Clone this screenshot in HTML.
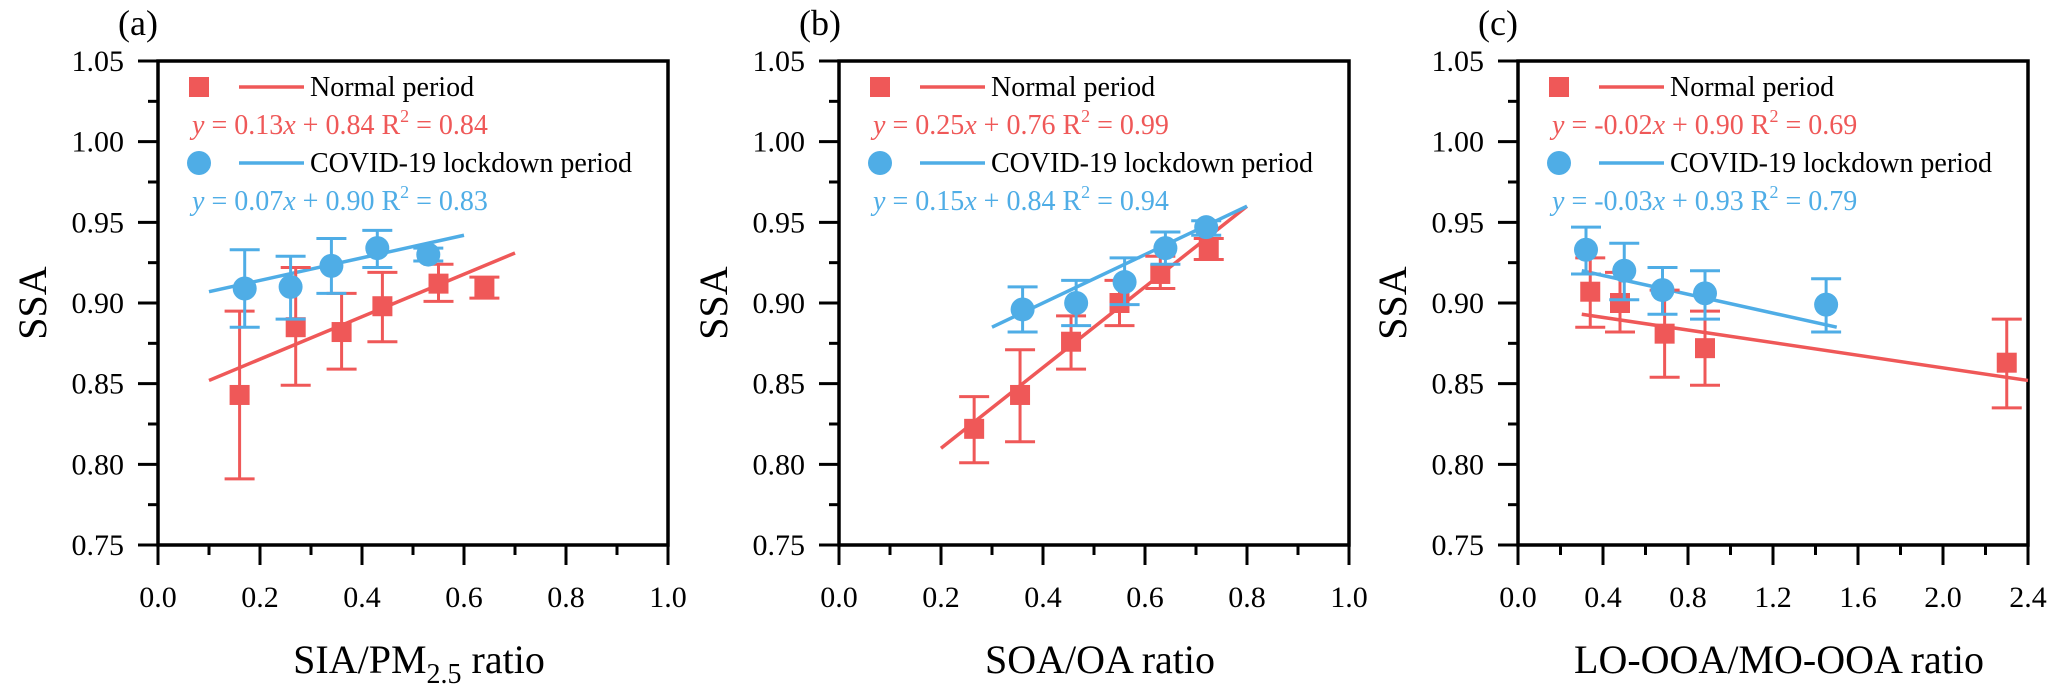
<!DOCTYPE html>
<html><head><meta charset="utf-8"><style>
html,body{margin:0;padding:0;background:#fff}
svg{display:block;font-family:"Liberation Serif","Times New Roman",serif}
svg text{font-family:"Liberation Serif","Times New Roman",serif}
</style></head><body>
<svg id="chart" width="2067" height="687" viewBox="0 0 2067 687" font-family="Liberation Serif, serif" xmlns="http://www.w3.org/2000/svg"></svg>
<script>
const panelLabels = ["(a)", "(b)", "(c)"];
const xTitles = ["SIA/PM", "SOA/OA ratio", "LO-OOA/MO-OOA ratio"];
const xMaxes = [1.0, 1.0, 2.4];
const xTickLabels = [["0.0","0.2","0.4","0.6","0.8","1.0"],["0.0","0.2","0.4","0.6","0.8","1.0"],["0.0","0.4","0.8","1.2","1.6","2.0","2.4"]];
const yTickLabels = ["0.75","0.80","0.85","0.90","0.95","1.00","1.05"];
const eqRed = ["0.13x + 0.84", "0.25x + 0.76", "-0.02x + 0.90"];
const r2Red = ["0.84", "0.99", "0.69"];
const eqBlue = ["0.07x + 0.90", "0.15x + 0.84", "-0.03x + 0.93"];
const r2Blue = ["0.83", "0.94", "0.79"];
// normal period (red)
const redX = [[0.16,0.27,0.36,0.44,0.55,0.64],[0.265,0.355,0.455,0.55,0.63,0.725],[0.34,0.48,0.69,0.88,2.3]];
const redY = [[0.843,0.885,0.882,0.898,0.912,0.909],[0.822,0.843,0.876,0.900,0.918,0.933],[0.907,0.900,0.881,0.872,0.863]];
const redLo = [[0.791,0.849,0.859,0.876,0.901,0.903],[0.801,0.814,0.859,0.886,0.909,0.927],[0.885,0.882,0.854,0.849,0.835]];
const redHi = [[0.895,0.922,0.906,0.919,0.924,0.916],[0.842,0.871,0.892,0.914,0.929,0.940],[0.928,0.919,0.908,0.895,0.890]];
const redFitX = [[0.1,0.7],[0.2,0.8],[0.3,2.4]];
const redFitY = [[0.852,0.931],[0.810,0.960],[0.893,0.852]];
// lockdown (blue)
const blueX = [[0.17,0.26,0.34,0.43,0.53],[0.36,0.465,0.56,0.64,0.72],[0.32,0.50,0.68,0.88,1.45]];
const blueY = [[0.909,0.910,0.923,0.934,0.930],[0.896,0.900,0.913,0.934,0.947],[0.933,0.920,0.908,0.906,0.899]];
const blueLo = [[0.885,0.890,0.906,0.922,0.926],[0.882,0.886,0.899,0.924,0.942],[0.918,0.902,0.893,0.890,0.882]];
const blueHi = [[0.933,0.929,0.940,0.945,0.934],[0.910,0.914,0.928,0.944,0.951],[0.947,0.937,0.922,0.920,0.915]];
const blueFitX = [[0.1,0.6],[0.3,0.8],[0.3,1.5]];
const blueFitY = [[0.907,0.942],[0.885,0.960],[0.920,0.885]];

const RED = "#ef5858", BLUE = "#4fade6";
const FONT = '"Liberation Serif", serif';
const NS = "http://www.w3.org/2000/svg";
const svg = document.getElementById("chart");
const lefts = [158, 839, 1518], W = 510, TOP = 61, BOT = 545;
function el(tag, attrs, parent, txt) {
  const e = document.createElementNS(NS, tag);
  for (const k in attrs) e.setAttribute(k, attrs[k]);
  if (tag === "text") e.style.fontFamily = FONT;
  if (txt !== undefined) e.textContent = txt;
  (parent || svg).appendChild(e);
  return e;
}
for (let p = 0; p < 3; p++) {
  const L = lefts[p], R = L + W;
  const g = el("g", {});
  
  
  const sx = v => L + v / xMaxes[p] * W;
  const sy = v => TOP + (1.05 - v) / 0.3 * (BOT - TOP);
  const pl = el("text", {x: L - 40, y: 35, "font-size": 36}, g, panelLabels[p]);
  
  
  const fr = el("rect", {x: L, y: TOP, width: W, height: BOT - TOP, fill: "none", stroke: "#000", "stroke-width": 3.5}, g);
  
  
  for (let i = 0; i < yTickLabels.length; i++) {
    const v = 0.75 + i * 0.05, y = sy(v);
    el("line", {x1: L - 20, x2: L, y1: y, y2: y, stroke: "#000", "stroke-width": 3}, g);
    const t = el("text", {x: L - 34, y: y + 10, "font-size": 30, "text-anchor": "end"}, g, yTickLabels[i]);
    
    
    if (i < yTickLabels.length - 1) {
      const ym = sy(v + 0.025);
      el("line", {x1: L - 10, x2: L, y1: ym, y2: ym, stroke: "#000", "stroke-width": 3}, g);
    }
  }
  const xt = xTickLabels[p], n = xt.length;
  for (let i = 0; i < n; i++) {
    const x = L + i / (n - 1) * W;
    el("line", {x1: x, x2: x, y1: BOT, y2: BOT + 20, stroke: "#000", "stroke-width": 3}, g);
    const t = el("text", {x: x, y: 607, "font-size": 30, "text-anchor": "middle"}, g, xt[i]);
    
    
    if (i < n - 1) {
      const xm = x + W / (n - 1) / 2;
      el("line", {x1: xm, x2: xm, y1: BOT, y2: BOT + 10, stroke: "#000", "stroke-width": 3}, g);
    }
  }
  const yt = el("text", {x: 0, y: 0, "font-size": 40, "text-anchor": "middle", transform: `translate(${L - 112},303) rotate(-90)`}, g, "SSA");
  
  
  const xtt = el("text", {x: L + W / 2 + 6, y: 673, "font-size": 40, "text-anchor": "middle"}, g);
  
  
  if (p === 0) {
    el("tspan", {}, xtt, "SIA/PM");
    el("tspan", {"font-size": 28, dy: 10}, xtt, "2.5");
    el("tspan", {dy: -10}, xtt, " ratio");
  } else xtt.textContent = xTitles[p];
  const rl = el("line", {x1: sx(redFitX[p][0]), y1: sy(redFitY[p][0]), x2: sx(redFitX[p][1]), y2: sy(redFitY[p][1]), stroke: RED, "stroke-width": 3.5}, g);
  
  
  const bl = el("line", {x1: sx(blueFitX[p][0]), y1: sy(blueFitY[p][0]), x2: sx(blueFitX[p][1]), y2: sy(blueFitY[p][1]), stroke: BLUE, "stroke-width": 3.5}, g);
  
  
  function errbar(x, lo, hi, col) {
    const eg = el("g", {stroke: col, "stroke-width": 3}, g);
    
    
    el("line", {x1: sx(x), x2: sx(x), y1: sy(lo), y2: sy(hi)}, eg);
    el("line", {x1: sx(x) - 15, x2: sx(x) + 15, y1: sy(lo), y2: sy(lo)}, eg);
    el("line", {x1: sx(x) - 15, x2: sx(x) + 15, y1: sy(hi), y2: sy(hi)}, eg);
  }
  for (let i = 0; i < redX[p].length; i++) {
    errbar(redX[p][i], redLo[p][i], redHi[p][i], RED);
    const m = el("rect", {x: sx(redX[p][i]) - 10, y: sy(redY[p][i]) - 10, width: 20, height: 20, fill: RED}, g);
    
    
  }
  for (let i = 0; i < blueX[p].length; i++) {
    errbar(blueX[p][i], blueLo[p][i], blueHi[p][i], BLUE);
    const m = el("circle", {cx: sx(blueX[p][i]), cy: sy(blueY[p][i]), r: 12, fill: BLUE}, g);
    
    
  }
  const lg = el("g", {}, g);
  
  
  el("rect", {x: L + 31, y: 77, width: 20, height: 20, fill: RED}, lg);
  el("line", {x1: L + 81, x2: L + 146, y1: 87, y2: 87, stroke: RED, "stroke-width": 3.5}, lg);
  const l1 = el("text", {x: L + 152, y: 96, "font-size": 28}, lg, "Normal period");
  
  
  const e1 = el("text", {x: L + 34, y: 134, "font-size": 28, fill: RED}, lg);
  
  
  e1.innerHTML = `<tspan font-style="italic">y</tspan> = ${eqRed[p].split("x")[0]}<tspan font-style="italic">x</tspan>${eqRed[p].split("x")[1]} R<tspan font-size="18" dy="-12">2</tspan><tspan dy="12"> = ${r2Red[p]}</tspan>`;
  el("circle", {cx: L + 41, cy: 163, r: 12, fill: BLUE}, lg);
  el("line", {x1: L + 81, x2: L + 146, y1: 163, y2: 163, stroke: BLUE, "stroke-width": 3.5}, lg);
  const l2 = el("text", {x: L + 152, y: 172, "font-size": 28}, lg, "COVID-19 lockdown period");
  
  
  const e2 = el("text", {x: L + 34, y: 210, "font-size": 28, fill: BLUE}, lg);
  
  
  e2.innerHTML = `<tspan font-style="italic">y</tspan> = ${eqBlue[p].split("x")[0]}<tspan font-style="italic">x</tspan>${eqBlue[p].split("x")[1]} R<tspan font-size="18" dy="-12">2</tspan><tspan dy="12"> = ${r2Blue[p]}</tspan>`;
}
</script>
</body></html>
